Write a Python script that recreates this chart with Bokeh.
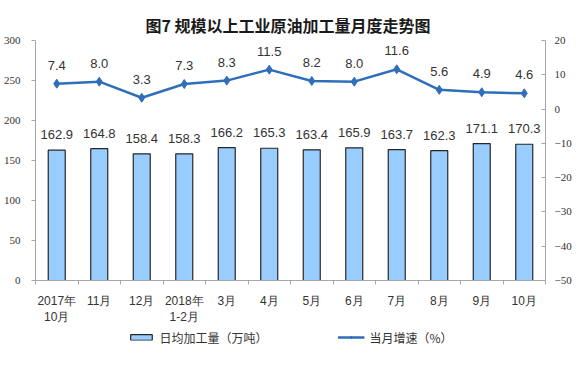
from bokeh.plotting import figure
from bokeh.layouts import column
from bokeh.models import (FactorRange, Range1d, LinearAxis, CategoricalAxis, FixedTicker,
                          ColumnDataSource, Legend, LegendItem, LabelSet)
from bokeh.core.properties import value
from bokeh.embed import file_html
from bokeh.resources import INLINE

categories = ["2017年\n10月", "11月", "12月", "2018年\n1-2月", "3月", "4月",
              "5月", "6月", "7月", "8月", "9月", "10月"]
daily_output = [162.9, 164.8, 158.4, 158.3, 166.2, 165.3, 163.4, 165.9, 163.7, 162.3, 171.1, 170.3]
growth_rate = [7.4, 8.0, 3.3, 7.3, 8.3, 11.5, 8.2, 8.0, 11.6, 5.6, 4.9, 4.6]
left_ticks = [0, 50, 100, 150, 200, 250, 300]
right_ticks = [-50, -40, -30, -20, -10, 0, 10, 20]
title_text = "图7 规模以上工业原油加工量月度走势图"
bar_label = "日均加工量（万吨）"
line_label = "当月增速（%）"

SANS = value("Liberation Sans")
CJK = "Noto Sans CJK SC"
AXIS_GRAY = "#A6A6A6"
TEXT = "#333333"
BLUE = "#2F6EBA"
BAR_FILL = "#99CCFF"
BAR_LINE = "#262626"

source = ColumnDataSource(dict(
    cat=categories, out=daily_output, rate=growth_rate,
    out_lbl=[f"{v:.1f}" for v in daily_output],
    rate_lbl=[f"{v:.1f}" for v in growth_rate],
))

p = figure(width=578, height=328, x_range=FactorRange(*categories),
           y_range=Range1d(0, 300), output_backend="svg", toolbar_location=None,
           x_axis_location=None, y_axis_location=None,
           min_border_left=34, min_border_right=33, min_border_top=40, min_border_bottom=48)
p.outline_line_color = None
p.grid.visible = False
p.extra_y_ranges = {"rate": Range1d(-50, 20)}

p.title.text = title_text
p.title.align = "left"
p.title.offset = 110
p.title.text_font = CJK
p.title.text_font_size = "16px"
p.title.text_font_style = "bold"
p.title.text_color = "#1a1a1a"
p.title.standoff = 8

# left axis
ly = LinearAxis(ticker=FixedTicker(ticks=left_ticks))
ly.axis_line_color = AXIS_GRAY
ly.major_tick_line_color = AXIS_GRAY
ly.major_tick_out = 4
ly.major_tick_in = 0
ly.minor_tick_line_color = None
ly.major_label_text_font_size = "11px"
ly.major_label_text_font = "Liberation Serif"
ly.major_label_text_color = TEXT
ly.major_label_standoff = 11
p.add_layout(ly, "left")

# right axis
ry = LinearAxis(y_range_name="rate", ticker=FixedTicker(ticks=right_ticks))
ry.axis_line_color = AXIS_GRAY
ry.major_tick_line_color = AXIS_GRAY
ry.major_tick_out = 0
ry.major_tick_in = 4
ry.minor_tick_line_color = None
ry.major_label_text_font_size = "11px"
ry.major_label_text_font = "Liberation Serif"
ry.major_label_text_color = TEXT
ry.major_label_standoff = 9
p.add_layout(ry, "right")

# bottom tick axis (ticks at category boundaries, synthetic coordinates)
tx = LinearAxis(ticker=FixedTicker(ticks=list(range(len(categories) + 1))))
tx.axis_line_color = AXIS_GRAY
tx.major_tick_line_color = AXIS_GRAY
tx.major_tick_out = 4
tx.major_tick_in = 0
tx.minor_tick_line_color = None
tx.major_label_text_font_size = "0px"
tx.major_label_text_color = None
tx.major_label_standoff = 0
p.add_layout(tx, "below")

# category labels
cx = CategoricalAxis()
cx.axis_line_color = None
cx.major_tick_line_color = None
cx.major_label_text_font_size = "12px"
cx.major_label_text_font = "Liberation Sans"
cx.major_label_text_color = TEXT
cx.major_label_standoff = 3
p.add_layout(cx, "below")

p.vbar(x="cat", top="out", width=0.4, source=source,
       fill_color=BAR_FILL, line_color=BAR_LINE, line_width=1.2)
p.line(x="cat", y="rate", y_range_name="rate", source=source, line_color=BLUE, line_width=2.5)
p.scatter(x="cat", y="rate", y_range_name="rate", source=source, marker="diamond",
          size=9, fill_color=BLUE, line_color=BLUE)

p.add_layout(LabelSet(x="cat", y="out", text="out_lbl", source=source, text_align="center",
                      text_baseline="bottom", y_offset=11, text_font_size="13px",
                      text_font=SANS, text_color=TEXT))
p.add_layout(LabelSet(x="cat", y="rate", text="rate_lbl", source=source, y_range_name="rate",
                      text_align="center", text_baseline="bottom", y_offset=14,
                      text_font_size="13px", text_font=SANS, text_color=TEXT))

# legend strip below the chart (its glyphs lie outside its visible range)
lg = figure(width=578, height=18, x_range=FactorRange(*categories), y_range=Range1d(1000, 1001),
            output_backend="svg", toolbar_location=None, x_axis_location=None,
            y_axis_location=None, min_border_left=0, min_border_right=12,
            min_border_top=0, min_border_bottom=0)
lg.outline_line_color = None
lg.grid.visible = False
lg_bar = lg.vbar(x="cat", top="out", width=0.4, source=source,
                 fill_color=BAR_FILL, line_color=BAR_LINE, line_width=1.2)
lg_line = lg.line(x="cat", y="rate", source=source, line_color=BLUE, line_width=2.5)
lg_pts = lg.scatter(x="cat", y="rate", source=source, marker="diamond", size=7,
                    fill_color=BLUE, line_color=BLUE)
legend = Legend(items=[LegendItem(label=bar_label, renderers=[lg_bar]),
                       LegendItem(label=line_label, renderers=[lg_line, lg_pts])],
                orientation="horizontal", location="center", glyph_width=27, glyph_height=7,
                label_height=14, spacing=70, label_standoff=5, border_line_color=None,
                background_fill_alpha=0, padding=0, margin=0, label_text_font_size="12px",
                label_text_font=CJK, label_text_color=TEXT)
lg.add_layout(legend)

open("out.html", "w").write(file_html(column(p, lg), INLINE))
